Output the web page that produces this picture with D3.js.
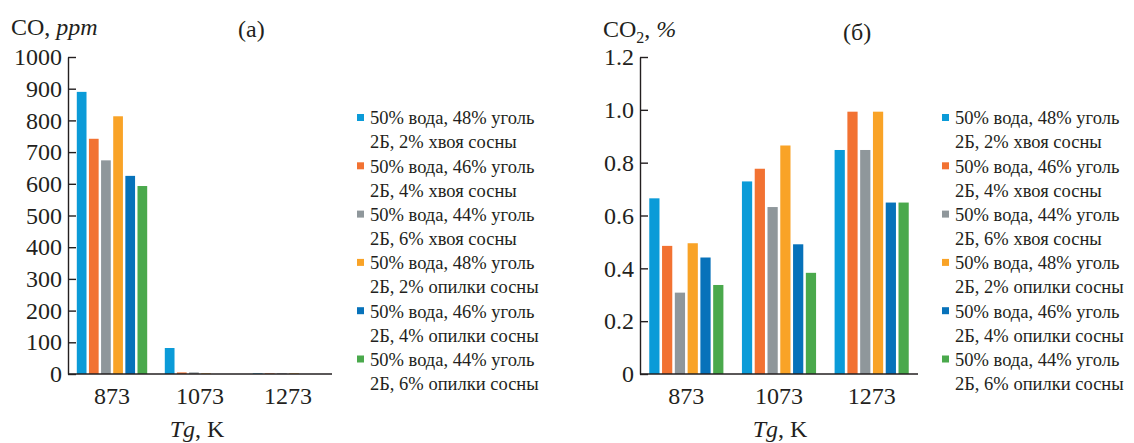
<!DOCTYPE html>
<html>
<head>
<meta charset="utf-8">
<script src="https://cdn.jsdelivr.net/npm/d3@7"></script>
<style>
  body { margin: 0; background: #fff; }
  svg { display: block; }
  .axis path, .axis line { stroke: #231f20; stroke-width: 1.4; }
</style>
</head>
<body>
<div id="chart"></div>
<script>
// categories on the x axis (gas temperature, K)
const categories = ["873", "1073", "1273"];

// legend labels, two lines each
const seriesLabels = [
  ["50% вода, 48% уголь", "2Б, 2% хвоя сосны"],
  ["50% вода, 46% уголь", "2Б, 4% хвоя сосны"],
  ["50% вода, 44% уголь", "2Б, 6% хвоя сосны"],
  ["50% вода, 48% уголь", "2Б, 2% опилки сосны"],
  ["50% вода, 46% уголь", "2Б, 4% опилки сосны"],
  ["50% вода, 44% уголь", "2Б, 6% опилки сосны"]
];
const colors = ["#0b9bd8", "#f27232", "#8f979b", "#f9a327", "#0772ba", "#4aa94c"];

// CO, ppm - one array per series, values for 873 / 1073 / 1273
const coValues = [
  [890, 82, 2],
  [742, 5, 2],
  [674, 5, 2],
  [813, 2, 2],
  [625, 0, 0],
  [593, 0, 0]
];
const coTicks = [0, 100, 200, 300, 400, 500, 600, 700, 800, 900, 1000];

// CO2, % - one array per series
const co2Values = [
  [0.665, 0.729, 0.848],
  [0.485, 0.777, 0.993],
  [0.308, 0.632, 0.848],
  [0.495, 0.865, 0.993],
  [0.441, 0.491, 0.649],
  [0.337, 0.383, 0.649]
];
const co2Ticks = [0, 0.2, 0.4, 0.6, 0.8, 1.0, 1.2];

const width = 1134, height = 443;
const font = "Liberation Serif";
const ink = "#231f20";

const svg = d3.select("#chart")
  .append("svg")
  .attr("width", width)
  .attr("height", height);

function panel(opts) {
  const { values, ticks, yMax, left, right, top, bottom, fmt } = opts;

  let x = d3.scaleBand()
    .domain(categories)
    .range([left, right])
    .paddingInner(0.2)
    .paddingOuter(0.1);

  let x1 = d3.scaleBand()
    .domain(d3.range(seriesLabels.length))
    .range([0, x.bandwidth()])
    .paddingInner(0.2);

  let y = d3.scaleLinear()
    .domain([0, yMax])
    .range([bottom, top]);

  // bars
  const g = svg.append("g");
  values.forEach((vals, s) => {
    g.selectAll(null)
      .data(vals)
      .join("rect")
      .attr("x", (d, i) => x(categories[i]) + x1(s))
      .attr("y", d => y(d))
      .attr("width", x1.bandwidth())
      .attr("height", d => y(0) - y(d))
      .attr("fill", colors[s]);
  });

  // x axis - no ticks, just baseline and labels
  const xa = svg.append("g")
    .attr("class", "axis")
    .attr("transform", `translate(0,${bottom})`)
    .call(d3.axisBottom(x).tickSize(0).tickPadding(13));
  xa.select(".domain").attr("d", `M${left},0H${right}`);
  xa.selectAll("text").attr("dy", "0.71em");

  // y axis - ticks point inward
  svg.append("g")
    .attr("class", "axis")
    .attr("transform", `translate(${left},0)`)
    .call(d3.axisLeft(y).tickValues(ticks).tickFormat(fmt).tickSize(-8).tickSizeOuter(0).tickPadding(6));

  svg.selectAll(".axis")
    .attr("font-family", font)
    .attr("font-size", 24);
  svg.selectAll(".axis text").attr("fill", ink);
}

panel({
  values: coValues, ticks: coTicks, yMax: 1000,
  left: 68, right: 332, top: 57, bottom: 374,
  fmt: d => d
});

panel({
  values: co2Values, ticks: co2Ticks, yMax: 1.2,
  left: 640, right: 918, top: 57, bottom: 374,
  fmt: d => d === 0 ? "0" : d3.format(".1f")(d)
});

// titles
function label(xPos, yPos, parts, anchor) {
  const t = svg.append("text")
    .attr("x", xPos).attr("y", yPos)
    .attr("text-anchor", anchor || "start")
    .attr("font-family", font)
    .attr("font-size", 24)
    .attr("fill", ink);
  parts.forEach(p => {
    const ts = t.append("tspan").text(p.t);
    if (p.i) ts.attr("font-style", "italic");
    if (p.sub) ts.attr("font-size", 16).attr("dy", 6);
    if (p.up) ts.attr("dy", -6);
  });
}

label(11, 35, [{ t: "CO, " }, { t: "ppm", i: true }]);
label(238, 37, [{ t: "(a)" }]);
label(603, 37, [{ t: "CO" }, { t: "2", sub: true }, { t: ",  ", up: true }, { t: "%", i: true }]);
label(843, 40, [{ t: "(б)" }]);
// x titles sit at the very bottom edge, as in the source figure
label(197, 437, [{ t: "Tg", i: true }, { t: ", K" }], "middle");
label(780, 437, [{ t: "Tg", i: true }, { t: ", K" }], "middle");

// legends
function legend(xPos, yPos) {
  const lg = svg.append("g")
    .attr("transform", `translate(${xPos},${yPos})`)
    .attr("font-family", font)
    .attr("font-size", 18.5);
  seriesLabels.forEach((lines, i) => {
    const row = lg.append("g").attr("transform", `translate(0,${i * 48.3})`);
    row.append("rect")
      .attr("x", 0).attr("y", -4)
      .attr("width", 7).attr("height", 7)
      .attr("fill", colors[i]);
    lines.forEach((ln, j) => {
      row.append("text")
        .attr("x", 13)
        .attr("y", j * 24)
        .attr("dy", "0.35em")
        .attr("fill", ink)
        .text(ln);
    });
  });
}

legend(357, 118);
legend(942, 118);
</script>
</body>
</html>
